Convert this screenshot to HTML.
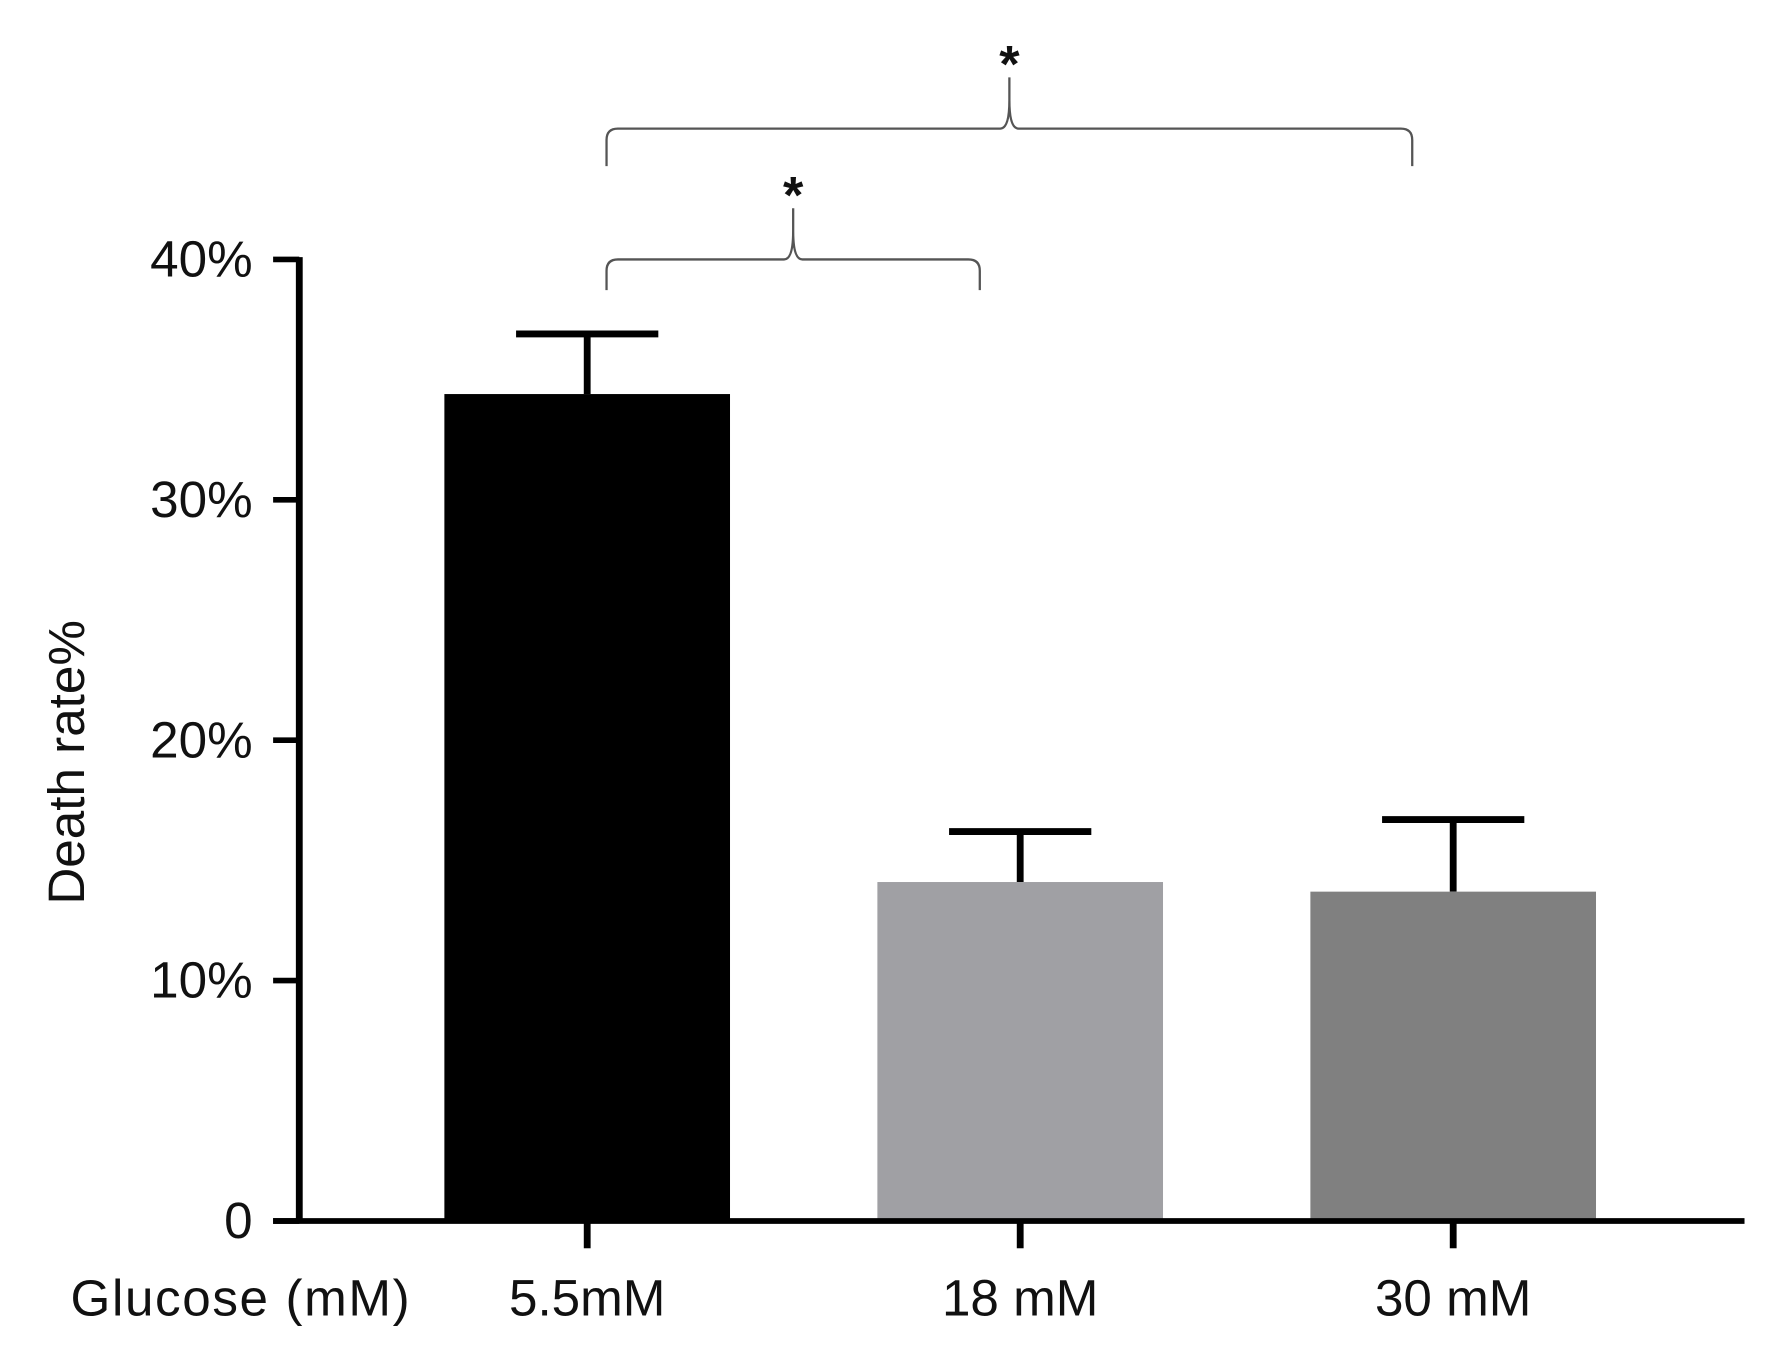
<!DOCTYPE html>
<html><head><meta charset="utf-8"><style>
html,body{margin:0;padding:0;background:#fff;}
svg{display:block;}
text{font-family:"Liberation Sans",sans-serif;fill:#111;}
</style></head><body>
<svg id="chart" width="1765" height="1345" viewBox="0 0 1551 1182" preserveAspectRatio="none" xmlns="http://www.w3.org/2000/svg">
<g id="g"></g>
</svg>
<script>
const categories = ["5.5mM", "18 mM", "30 mM"];
const values = [34.4, 14.1, 13.7];
const errors = [2.5, 2.1, 3.0];
const colors = ["#000000", "#a0a0a4", "#808080"];
const yTicks = [0, 10, 20, 30, 40];
const yTickLabels = ["0", "10%", "20%", "30%", "40%"];

const NS = "http://www.w3.org/2000/svg";
const g = document.getElementById("g");
const y0 = 1073, y40 = 228, axX = 263;
function yScale(v){ return y0 - (v/40)*(y0-y40); }
function xCenter(i){ return 516 + i*380.5; }
const barW = 251, capW = 125;
function mk(tag, attrs, parent){ const e=document.createElementNS(NS,tag); for(const k in attrs) e.setAttribute(k,attrs[k]); (parent||g).appendChild(e); return e; }

categories.forEach((c,i)=>{
  const cx = xCenter(i), top = yScale(values[i]), et = yScale(values[i]+errors[i]);
  const eb = mk("line",{x1:cx,x2:cx,y1:top,y2:et,stroke:"#000","stroke-width":6});
  
  
  const cap = mk("line",{x1:cx-capW/2,x2:cx+capW/2,y1:et,y2:et,stroke:"#000","stroke-width":6});
  
  
  const r = mk("rect",{x:cx-barW/2,y:top,width:barW,height:y0-top,fill:colors[i]});
  
  
  const t = mk("line",{x1:cx,x2:cx,y1:y0,y2:1097,stroke:"#000","stroke-width":6});
  
  
  const l = mk("text",{x:cx,y:1156,"text-anchor":"middle","font-size":45});
  l.textContent = c;
  
  
});

const ya = mk("line",{x1:axX,x2:axX,y1:y40-2,y2:y0+2,stroke:"#000","stroke-width":6});


const xa = mk("line",{x1:240,x2:1533,y1:y0,y2:y0,stroke:"#000","stroke-width":5});


yTicks.forEach((v,i)=>{
  const y = yScale(v);
  const t = mk("line",{x1:240,x2:axX,y1:y,y2:y,stroke:"#000","stroke-width":5});
  
  
  const l = mk("text",{x:222,y:y+15,"text-anchor":"end","font-size":45});
  l.textContent = yTickLabels[i];
  
  
});
const yt = mk("text",{x:0,y:0,"text-anchor":"middle","font-size":45,transform:"translate(74,670) rotate(-90)"});
yt.textContent = "Death rate%";


const xt = mk("text",{x:62,y:1156,"font-size":45,textLength:298});
xt.textContent = "Glucose (mM)";



function bracket(x1,x2,xm,y,yEnd,yPeak,name){
  const d = `M${x1},${yEnd} L${x1},${y+10} Q${x1},${y} ${x1+10},${y} L${xm-8},${y} Q${xm},${y} ${xm},${yPeak+20} L${xm},${yPeak} M${xm},${yPeak+20} Q${xm},${y} ${xm+8},${y} L${x2-10},${y} Q${x2},${y} ${x2},${y+10} L${x2},${yEnd}`;
  const p = mk("path",{d:d,fill:"none",stroke:"#555","stroke-width":2});
  
  
  const s = mk("text",{x:xm,y:yPeak+4,"text-anchor":"middle","font-size":46,"font-weight":"bold"});
  s.textContent = "*";
  
  
}
bracket(533,861,697,228,255,183,"bracket-5.5-vs-18");
bracket(533,1241,887,113,146,68,"bracket-5.5-vs-30");
</script>
</body></html>
